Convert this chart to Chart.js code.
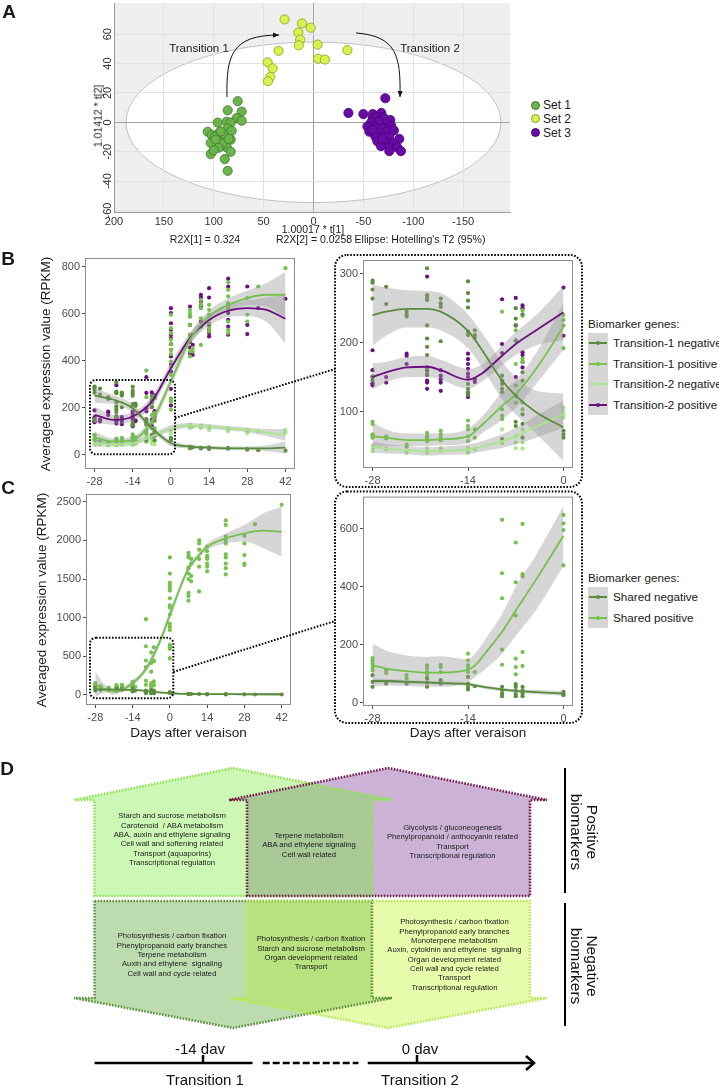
<!DOCTYPE html>
<html lang="en">
<head>
<meta charset="UTF-8">
<title>Biomarker genes across veraison</title>
<script src="https://cdn.jsdelivr.net/npm/chart.js"></script>
<style>
  body { margin: 0; background: #fff; }
  #page { position: relative; width: 719px; height: 1087px; overflow: hidden; font-family: "Liberation Sans", Arial, sans-serif; color: #1a1a1a; }
  #page canvas { position: absolute; }
  .lbl { position: absolute; white-space: nowrap; transform: translate(-50%, -50%); line-height: 1; }
  .lbl.left { transform: translate(0, -50%); }
  .lbl.vert { transform: translate(-50%, -50%) rotate(-90deg); }
  .panel { font-weight: bold; }
  #overlay { position: absolute; left: 0; top: 0; }
</style>
</head>
<body>
<div id="page"></div>
<script>
// ---- panel A: PCA scores ----
const set1X = [76, 86, 72, 77, 72, 96, 87, 83, 106, 102, 95, 86, 82, 99, 93, 89, 83, 103, 94, 87, 93, 103, 83, 89, 86, 94, 91, 98, 90, 85, 95, 100, 93];
const set1Y = [14.4, 8.2, 7.3, 2.9, 1.1, -0.2, 0.4, -0.2, -6.4, -8.7, -7.3, -4, -5.8, -10, -10.4, -11.8, -11.8, -14, -15.8, -17, -16, -21.6, -20, -25, -33, -13, -14.4, -11.8, -7.8, -11.3, -17.3, -19, -6.2];
const set2X = [29, 11.5, 2.8, 15.2, 13.4, 14.7, -4.1, -34, 35, -4.6, -11.5, 46, 41, 43.3, 45.6];
const set2Y = [70, 67.3, 64.4, 61.1, 56.2, 52.4, 52.9, 49.1, 48.7, 43.3, 42.7, 40.9, 36.7, 30.9, 28];
const set3X = [-72, -35, -50, -59.4, -68, -59.4, -63, -70, -77, -73, -65.4, -57.6, -54, -62, -71.4, -78, -56, -66, -73.7, -80.6, -62, -70, -76, -86, -64, -72, -80, -67.7, -76, -84, -87.6, -76, -59.4, -69];
const set3Y = [16.4, 6.4, 5.6, 5.6, 6.4, 2.7, 3.8, 3.3, 1.6, -1.1, 0.4, -0.2, -2.9, -3.3, -4, -2.4, -6.4, -6.9, -6.2, -5.6, -9.6, -9.6, -10, -11.3, -12.9, -13.6, -14.4, -16.2, -17.3, -17.1, -19.6, -19.6, -5.1, -11.3];
const pcaXTicks = [200, 150, 100, 50, 0, -50, -100, -150];
const pcaYTicks = [60, 40, 20, 0, -20, -40, -60];
const ellipseRadii = [188, 54.6];

// ---- panels B and C: expression per sampling day ----
const sampleDays = [-28, -26, -23, -20, -18, -14, -13, -9, -7, -6, 0, 7, 8, 11, 14, 21, 28, 32, 42];
const t1Neg = [[290, 287, 277, 264, 151, 145], [281, 256], [245, 241, 238], [308, 269, 265, 262, 225, 206, 194, 182, 162, 155], [264, 257, 252, 202], [289, 272, 261, 251, 216, 211, 140, 133, 128, 124], [218, 211, 207], [152, 145, 140, 133, 128, 60], [250, 235, 225, 203, 85, 79], [241, 157, 145, 96, 82, 62], [72, 67, 62], [35, 30, 28], [32], [30, 27], [32, 27, 25], [30, 26], [25, 22], [20], [18]];
const t1Pos = [[85, 82, 67, 65, 62], [64, 61], [52, 49], [69, 64, 61, 57], [72, 67, 62, 58], [87, 79, 74, 64, 57], [74, 62], [358, 245, 103, 94, 89], [218, 169, 138, 113], [247, 239, 177, 172, 113, 103], [595, 538, 517, 489, 470, 446, 428, 396, 375, 340, 240, 233, 225, 192], [616, 602, 588, 552, 510, 489, 439, 418], [453, 439], [658, 640, 623, 580, 467], [637, 616, 595, 559, 538, 524], [733, 701, 673, 644, 623, 566, 531, 517], [666, 595, 566], [715], [793]];
const t2Neg = [[50, 46, 42], [47, 45], [40], [47, 42, 40], [47, 43], [47, 43, 40], [45], [74, 60, 54], [64, 55, 47], [74, 55, 46], [106, 101, 96, 91], [127, 120, 113], [118], [125, 113], [120, 110, 106], [113, 106, 100], [106, 99, 92], [100], [106, 96]];
const t2Pos = [[189, 160, 150, 141, 138], [150, 142], [184, 181, 169], [296, 164, 160, 153, 145, 142, 133], [160, 152, 147, 142, 130], [184, 176, 169, 162, 155, 150, 127, 121], [147, 143], [330, 263, 198, 185], [265, 225, 203, 150, 123], [254, 250, 186, 182, 172, 164], [623, 602, 559, 531, 510, 496, 470, 446, 418, 382, 354, 280, 210], [630, 588, 552, 510, 479, 456, 432], [467, 425], [680, 668, 651, 630, 566, 545], [708, 668, 552, 531, 517, 503], [748, 715, 637, 602, 573, 545, 510], [715, 552, 513], [623], [663]];
const sharedPos = [[154, 146, 135, 123, 112], [112, 103], [95, 83], [129, 118, 106, 101, 89], [131, 123, 106], [169, 146, 129, 118, 106], [106], [980, 630, 446, 360, 183, 131], [552, 415, 301, 152, 123, 98], [616, 443, 435, 175, 127], [1780, 1570, 1450, 1420, 1390, 1350, 1250, 1160, 1130, 1040, 920, 880, 840, 647, 618, 595, 473], [1840, 1800, 1780, 1650, 1640, 1570, 1500, 1320, 1280, 1220], [1760, 1700, 1540, 1470], [2000, 1960, 1880, 1760, 1660, 1340], [1920, 1860, 1800, 1780, 1760, 1700, 1660, 1600], [2260, 2200, 2050, 2000, 1960, 1820, 1780, 1700, 1640, 1560], [2060, 1960, 1810, 1700, 1680], [2210], [2460]];
const sharedNeg = [[95, 72, 55], [72, 66], [66], [83, 69, 55], [78, 66], [89, 66, 55, 46], [57], [55, 43, 32, 23], [64, 55, 43, 30, 23], [55, 43, 32, 23], [38, 30, 26], [15, 10], [12], [12], [10, 8], [10, 7], [8], [6], [6]];

// smoothed fits (loess) with confidence band
const fitDaysB = [-28, -21, -14, -7, 0, 7, 14, 21, 28, 35, 42];
const t1NegFitB = [252, 234, 198, 113, 50, 35, 31, 28, 28, 28, 31];
const t1NegLoB = [220, 215, 180, 100, 38, 27, 23, 20, 20, 15, 5];
const t1NegHiB = [285, 253, 216, 126, 62, 43, 39, 36, 36, 41, 57];
const t1PosFitB = [74, 57, 64, 142, 312, 489, 588, 637, 666, 680, 680];
const t1PosLoB = [50, 45, 50, 122, 290, 466, 563, 610, 635, 630, 582];
const t1PosHiB = [98, 69, 78, 162, 334, 512, 613, 664, 697, 730, 778];
const t2NegFitB = [50, 45, 50, 78, 113, 125, 120, 113, 106, 95, 85];
const t2NegLoB = [34, 35, 40, 66, 100, 115, 110, 103, 96, 80, 60];
const t2NegHiB = [66, 55, 60, 90, 126, 135, 130, 123, 116, 110, 110];
const t2PosFitB = [170, 149, 163, 227, 368, 496, 573, 612, 623, 616, 578];
const t2PosLoB = [135, 128, 145, 205, 345, 472, 548, 585, 590, 565, 474];
const t2PosHiB = [205, 170, 181, 249, 391, 520, 598, 639, 656, 667, 682];

const fitDaysBZoom = [-28, -26, -23, -20, -18, -14, -12, -9, -7, -4, 0];
const t1NegFitZ = [240, 245, 249, 249, 245, 217, 190, 145, 123, 99, 77];
const t1NegLoZ = [196, 210, 222, 222, 218, 192, 165, 118, 96, 68, 28];
const t1NegHiZ = [284, 280, 276, 275, 272, 241, 215, 172, 150, 130, 126];
const t1PosFitZ = [64, 62, 58.5, 58.5, 59.5, 64, 80, 108, 125, 162, 223];
const t1PosLoZ = [46, 50, 50, 50, 51, 54, 68, 88, 105, 140, 190];
const t1PosHiZ = [84, 74, 68, 68, 68, 75, 92, 128, 145, 185, 258];
const t2NegFitZ = [49, 46, 44, 42, 43, 45, 49, 57, 64, 78, 96];
const t2NegLoZ = [40, 39, 38, 36, 37, 38, 42, 47, 52, 62, 76];
const t2NegHiZ = [57, 53, 50, 48, 49, 52, 57, 67, 76, 94, 116];
const t2PosFitZ = [150, 157, 164, 165, 160, 146, 155, 181, 198, 218, 244];
const t2PosLoZ = [132, 142, 150, 150, 146, 133, 143, 167, 182, 196, 204];
const t2PosHiZ = [170, 172, 179, 181, 175, 162, 168, 196, 215, 240, 282];

const fitDaysC = [-28, -24, -21, -18, -14, -10, -7, -3, 0, 4, 7, 11, 14, 21, 28, 35, 42];
const sPosFitC = [129, 73, 43, 65, 151, 289, 452, 754, 1034, 1400, 1638, 1810, 1918, 2026, 2090, 2125, 2112];
const sPosLoC = [-22, 30, 5, 35, 108, 255, 395, 710, 970, 1355, 1595, 1770, 1875, 1961, 1985, 1900, 1789];
const sPosHiC = [300, 120, 86, 100, 194, 320, 510, 800, 1099, 1450, 1681, 1850, 1961, 2090, 2198, 2349, 2435];
const sNegFitC = [73, 70, 68, 67, 65, 55, 43, 30, 22, 15, 13, 12, 11, 10, 9, 9, 9];
const sNegLoC = [55, 58, 58, 58, 55, 45, 33, 20, 12, 5, 3, 2, 1, 0, -3, -8, -12];
const sNegHiC = [91, 82, 78, 76, 75, 65, 53, 40, 32, 25, 23, 22, 21, 20, 21, 26, 30];

const fitDaysCZoom = [-28, -26, -23, -20, -18, -14, -13, -11, -9, -7, -4, 0];
const sPosFitZ = [129, 118, 109, 104, 104, 114, 128, 185, 245, 318, 425, 575];
const sPosLoZ = [55, 60, 58, 55, 55, 72, 88, 125, 170, 230, 320, 472];
const sPosHiZ = [203, 180, 163, 158, 160, 150, 168, 235, 305, 400, 510, 678];
const sNegFitZ = [75, 75, 72, 70, 68, 64, 60, 52, 46, 41, 37, 32];
const sNegLoZ = [66, 68, 66, 64, 62, 58, 54, 46, 40, 35, 30, 24];
const sNegHiZ = [84, 82, 78, 76, 74, 70, 66, 58, 52, 47, 44, 40];

const dayTicksFull = [-28, -14, 0, 14, 28, 42];
const dayTicksZoom = [-28, -14, 0];
const bTicksFull = [0, 200, 400, 600, 800];
const bTicksZoom = [100, 200, 300];
const cTicksFull = [0, 500, 1000, 1500, 2000, 2500];
const cTicksZoom = [0, 200, 400, 600];

const FONT = '"Liberation Sans", Arial, sans-serif';
const RIBBON = 'rgba(153,153,153,0.4)';
const C_T1NEG = '#5a8d3b';
const C_T1POS = '#74c24c';
const C_T2NEG = '#a9e68c';
const C_T2POS = '#6c0f80';
Chart.defaults.font.family = FONT;

const page = document.getElementById('page');

function label(text, x, y, size, cls, extra) {
  const d = document.createElement('div');
  d.className = 'lbl' + (cls ? ' ' + cls : '');
  d.textContent = text;
  d.style.left = x + 'px';
  d.style.top = y + 'px';
  d.style.fontSize = size + 'px';
  if (extra) Object.assign(d.style, extra);
  page.appendChild(d);
  return d;
}

function makeCanvas(pos) {
  const c = document.createElement('canvas');
  c.width = pos.w; c.height = pos.h;
  c.style.left = pos.x + 'px'; c.style.top = pos.y + 'px';
  c.style.width = pos.w + 'px'; c.style.height = pos.h + 'px';
  page.appendChild(c);
  return c;
}

function toPoints(values) {
  const out = [];
  sampleDays.forEach((d, i) => values[i].forEach(v => out.push({ x: d, y: v })));
  return out;
}
const curve = (days, vals) => days.map((d, i) => ({ x: d, y: vals[i] }));
const plain = v => String(v);

function pointSet(values, color) {
  return { data: toPoints(values), showLine: false, pointRadius: 2.1, pointBackgroundColor: color,
    pointBorderColor: 'rgba(0,0,0,0)', pointBorderWidth: 0, order: 3, clip: 0 };
}
function smoothSets(days, fit, lo, hi, color) {
  return [
    { data: curve(days, lo), borderColor: 'rgba(0,0,0,0)', borderWidth: 0, pointRadius: 0, fill: false, cubicInterpolationMode: 'monotone', order: 2, clip: 0 },
    { data: curve(days, hi), borderColor: 'rgba(0,0,0,0)', borderWidth: 0, pointRadius: 0, fill: '-1', backgroundColor: RIBBON, cubicInterpolationMode: 'monotone', order: 2, clip: 0 },
    { data: curve(days, fit), borderColor: color, borderWidth: 1.8, pointRadius: 0, fill: false, cubicInterpolationMode: 'monotone', order: 1, clip: 0 }
  ];
}

const panelFrame = {
  id: 'panelFrame',
  afterDraw(chart) {
    const { ctx, chartArea: a } = chart;
    ctx.save();
    ctx.strokeStyle = '#8c8c8c';
    ctx.lineWidth = 1;
    ctx.strokeRect(a.left + 0.5, a.top + 0.5, a.width - 1, a.height - 1);
    ctx.restore();
  }
};

function exprChart(pos, area, xr, yr, xt, yt, datasets) {
  const axisTicks = (vals) => (s) => { s.ticks = vals.map(v => ({ value: v })); };
  return new Chart(makeCanvas(pos), {
    type: 'line',
    data: { datasets },
    options: {
      responsive: false, animation: false, devicePixelRatio: 1, events: [],
      layout: { autoPadding: false, padding: { left: 0, bottom: 0, top: area.t - pos.y, right: pos.x + pos.w - area.r } },
      plugins: { legend: { display: false }, tooltip: { enabled: false } },
      scales: {
        x: { type: 'linear', min: xr[0], max: xr[1], afterBuildTicks: axisTicks(xt),
          afterFit: s => { s.height = pos.y + pos.h - area.b; },
          grid: { drawOnChartArea: false, drawTicks: true, tickLength: 3, color: '#4d4d4d' },
          border: { display: false },
          ticks: { color: '#4d4d4d', font: { size: 11 }, padding: 3, maxRotation: 0, autoSkip: false, callback: plain } },
        y: { type: 'linear', min: yr[0], max: yr[1], afterBuildTicks: axisTicks(yt),
          afterFit: s => { s.width = area.l - pos.x; },
          grid: { drawOnChartArea: false, drawTicks: true, tickLength: 3, color: '#4d4d4d' },
          border: { display: false },
          ticks: { color: '#4d4d4d', font: { size: 11 }, padding: 2, autoSkip: false, callback: plain } }
      }
    },
    plugins: [panelFrame]
  });
}

// ---------- Panel A ----------
const arrowT1 = [[86.7, 17.2], [87.7, 45.8], [81.7, 59.4], [34.6, 59.4]];
const arrowT2 = [[-42.6, 60.8], [-82.7, 58.7], [-87.7, 45.8], [-86.7, 17.2]];

const pcaDecor = {
  id: 'pcaDecor',
  beforeDraw(chart) {
    const { ctx, chartArea: a, scales: { x, y } } = chart;
    ctx.save();
    ctx.fillStyle = '#efefef';
    ctx.fillRect(a.left, a.top, a.width, a.height);
    const cx = x.getPixelForValue(0), cy = y.getPixelForValue(0);
    const rx = Math.abs(x.getPixelForValue(ellipseRadii[0]) - cx);
    const ry = Math.abs(y.getPixelForValue(ellipseRadii[1]) - cy);
    ctx.beginPath();
    ctx.ellipse(cx, cy, rx, ry, 0, 0, 2 * Math.PI);
    ctx.fillStyle = '#fff';
    ctx.fill();
    ctx.strokeStyle = '#c2c2c2';
    ctx.lineWidth = 1;
    ctx.stroke();
    ctx.restore();
  },
  afterDraw(chart) {
    const { ctx, scales: { x, y } } = chart;
    ctx.save();
    ctx.fillStyle = '#333';
    ctx.font = '11px ' + FONT;
    ctx.textAlign = 'center';
    ctx.textBaseline = 'middle';
    pcaYTicks.forEach(v => {
      ctx.save();
      ctx.translate(108, y.getPixelForValue(v));
      ctx.rotate(-Math.PI / 2);
      ctx.fillText(String(v), 0, 0);
      ctx.restore();
    });
    ctx.strokeStyle = '#111';
    ctx.fillStyle = '#111';
    ctx.lineWidth = 1;
    [arrowT1, arrowT2].forEach(a => {
      const p = a.map(q => [x.getPixelForValue(q[0]), y.getPixelForValue(q[1])]);
      ctx.beginPath();
      ctx.moveTo(p[0][0], p[0][1]);
      ctx.bezierCurveTo(p[1][0], p[1][1], p[2][0], p[2][1], p[3][0], p[3][1]);
      ctx.stroke();
      const ang = Math.atan2(p[3][1] - p[2][1], p[3][0] - p[2][0]);
      ctx.save();
      ctx.translate(p[3][0], p[3][1]);
      ctx.rotate(ang);
      ctx.beginPath();
      ctx.moveTo(0, 0); ctx.lineTo(-6, -2.6); ctx.lineTo(-6, 2.6); ctx.closePath();
      ctx.fill();
      ctx.restore();
    });
    ctx.restore();
  }
};

const zip = (xs, ys) => xs.map((v, i) => ({ x: v, y: ys[i] }));
const posA = { x: 0, y: 0, w: 520, h: 250 };
const areaA = { l: 114, t: 3, r: 510, b: 212 };
const gridA = c => (c.tick && c.tick.value === 0) ? '#a3a3a3' : '#e2e2e2';
new Chart(makeCanvas(posA), {
  type: 'scatter',
  data: { datasets: [
    { data: zip(set1X, set1Y), pointRadius: 4.6, pointBackgroundColor: '#6ab34d', pointBorderColor: '#3f7a2c', pointBorderWidth: 0.8 },
    { data: zip(set2X, set2Y), pointRadius: 4.6, pointBackgroundColor: '#d8f24e', pointBorderColor: '#8e9d2a', pointBorderWidth: 0.8 },
    { data: zip(set3X, set3Y), pointRadius: 4.6, pointBackgroundColor: '#6a0aa6', pointBorderColor: '#45086e', pointBorderWidth: 0.8 }
  ] },
  options: {
    responsive: false, animation: false, devicePixelRatio: 1, events: [],
    layout: { autoPadding: false, padding: { left: 0, bottom: 0, top: areaA.t, right: posA.w - areaA.r } },
    plugins: { legend: { display: false }, tooltip: { enabled: false } },
    scales: {
      x: { type: 'linear', reverse: true, min: -197, max: 200,
        afterBuildTicks: s => { s.ticks = pcaXTicks.map(v => ({ value: v })); },
        afterFit: s => { s.height = posA.h - areaA.b; },
        grid: { color: gridA, drawTicks: false }, border: { color: '#9a9a9a' },
        ticks: { color: '#333', font: { size: 11 }, padding: 3, maxRotation: 0, autoSkip: false, callback: plain } },
      y: { type: 'linear', min: -61, max: 81.2,
        afterBuildTicks: s => { s.ticks = pcaYTicks.map(v => ({ value: v })); },
        afterFit: s => { s.width = areaA.l; },
        grid: { color: gridA, drawTicks: false }, border: { color: '#9a9a9a' },
        ticks: { display: false } }
    }
  },
  plugins: [pcaDecor]
});

// ---------- Panel B ----------
exprChart({ x: 0, y: 245, w: 305, h: 250 }, { l: 85, t: 258, r: 295, b: 469 }, [-31.5, 45.5], [-60, 836], dayTicksFull, bTicksFull, [
  pointSet(t1Neg, C_T1NEG), pointSet(t1Pos, C_T1POS), pointSet(t2Neg, C_T2NEG), pointSet(t2Pos, C_T2POS),
  ...smoothSets(fitDaysB, t1NegFitB, t1NegLoB, t1NegHiB, C_T1NEG),
  ...smoothSets(fitDaysB, t1PosFitB, t1PosLoB, t1PosHiB, C_T1POS),
  ...smoothSets(fitDaysB, t2NegFitB, t2NegLoB, t2NegHiB, C_T2NEG),
  ...smoothSets(fitDaysB, t2PosFitB, t2PosLoB, t2PosHiB, C_T2POS)
]);
exprChart({ x: 310, y: 250, w: 270, h: 240 }, { l: 363, t: 260, r: 573, b: 468 }, [-29.4, 1.4], [18, 320], dayTicksZoom, bTicksZoom, [
  pointSet(t1Neg, C_T1NEG), pointSet(t1Pos, C_T1POS), pointSet(t2Neg, C_T2NEG), pointSet(t2Pos, C_T2POS),
  ...smoothSets(fitDaysBZoom, t1NegFitZ, t1NegLoZ, t1NegHiZ, C_T1NEG),
  ...smoothSets(fitDaysBZoom, t1PosFitZ, t1PosLoZ, t1PosHiZ, C_T1POS),
  ...smoothSets(fitDaysBZoom, t2NegFitZ, t2NegLoZ, t2NegHiZ, C_T2NEG),
  ...smoothSets(fitDaysBZoom, t2PosFitZ, t2PosLoZ, t2PosHiZ, C_T2POS)
]);

// ---------- Panel C ----------
exprChart({ x: 0, y: 485, w: 300, h: 240 }, { l: 86, t: 494, r: 291, b: 705 }, [-31.5, 45.5], [-130, 2600], dayTicksFull, cTicksFull, [
  pointSet(sharedNeg, C_T1NEG), pointSet(sharedPos, C_T1POS),
  ...smoothSets(fitDaysC, sNegFitC, sNegLoC, sNegHiC, C_T1NEG),
  ...smoothSets(fitDaysC, sPosFitC, sPosLoC, sPosHiC, C_T1POS)
]);
exprChart({ x: 310, y: 488, w: 270, h: 237 }, { l: 363, t: 495, r: 573, b: 706 }, [-29.4, 1.4], [-11, 710], dayTicksZoom, cTicksZoom, [
  pointSet(sharedNeg, C_T1NEG), pointSet(sharedPos, C_T1POS),
  ...smoothSets(fitDaysCZoom, sNegFitZ, sNegLoZ, sNegHiZ, C_T1NEG),
  ...smoothSets(fitDaysCZoom, sPosFitZ, sPosLoZ, sPosHiZ, C_T1POS)
]);

// ---------- text ----------
label('A', 9, 11, 19, 'panel');
label('B', 8, 258, 19, 'panel');
label('C', 8, 487, 19, 'panel');
label('D', 7, 768, 19, 'panel');

label('Transition 1', 199, 49, 11.5);
label('Transition 2', 430, 49, 11.5);
label('1.01412 * t[2]', 98, 116, 10.5, 'vert');
label('1.00017 * t[1]', 313, 228.5, 10.5);
label('R2X[1] = 0.324', 205, 238.5, 10.5);
label('R2X[2] = 0.0258', 314, 238.5, 10.5);
label("Ellipse: Hotelling's T2 (95%)", 420, 238.5, 10.5);

[['Set 1', '#6ab34d', '#3f7a2c', 105], ['Set 2', '#d8f24e', '#8e9d2a', 118.5], ['Set 3', '#6a0aa6', '#45086e', 132.5]].forEach(s => {
  const d = document.createElement('div');
  Object.assign(d.style, { position: 'absolute', left: '530.5px', top: (s[3] - 4.5) + 'px', width: '9px', height: '9px',
    borderRadius: '50%', background: s[1], boxSizing: 'border-box', border: '0.8px solid ' + s[2] });
  page.appendChild(d);
  label(s[0], 543, s[3], 12, 'left');
});

label('Averaged expression value (RPKM)', 46, 363.5, 13.5, 'vert');
label('Averaged expression value (RPKM)', 42, 599.5, 13.5, 'vert');
label('Days after veraison', 188.5, 733, 13.5);
label('Days after veraison', 468, 733, 13.5);

function legend(top, items) {
  label('Biomarker genes:', 588, top, 11.7, 'left');
  const keyTop = top + 9;
  const bg = document.createElement('div');
  Object.assign(bg.style, { position: 'absolute', left: '588px', top: keyTop + 'px', width: '20px', height: (items.length * 20.5) + 'px', background: '#d6d6d6' });
  page.appendChild(bg);
  items.forEach((it, i) => {
    const cy = keyTop + 10.25 + i * 20.5;
    const ln = document.createElement('div');
    Object.assign(ln.style, { position: 'absolute', left: '589px', top: (cy - 1) + 'px', width: '18px', height: '2px', background: it[1] });
    const dot = document.createElement('div');
    Object.assign(dot.style, { position: 'absolute', left: '595.8px', top: (cy - 2.2) + 'px', width: '4.4px', height: '4.4px', borderRadius: '50%', background: it[1] });
    page.appendChild(ln);
    page.appendChild(dot);
    label(it[0], 613, cy, 11.7, 'left');
  });
}
legend(324, [['Transition-1 negative', C_T1NEG], ['Transition-1 positive', C_T1POS], ['Transition-2 negative', C_T2NEG], ['Transition-2 positive', C_T2POS]]);
legend(578, [['Shared negative', C_T1NEG], ['Shared positive', C_T1POS]]);

// ---------- overlay: zoom boxes + panel D ----------
const t1PosShape = '94.5,896 94.5,800 74,800 233,768 392,800 372,800 372,896';
const t2PosShape = '247,896 247,800 229,800 388,768 547,800 530,800 530,896';
const t1NegShape = '94.5,901 372,901 372,998 392,998 233,1028 74,998 94.5,998';
const t2NegShape = '247,901 530,901 530,998 547,998 388,1028 229,998 247,998';

const dBoxes = [
  { x: 172, y: 815.7, lines: ['Starch and sucrose metabolism', 'Carotenoid  / ABA metabolism', 'ABA, auxin and ethylene signaling', 'Cell wall and softening related', 'Transport (aquaporins)', 'Transcriptional regulation'] },
  { x: 309, y: 835.3, lines: ['Terpene metabolism', 'ABA and ethylene signaling', 'Cell wall related'] },
  { x: 452.5, y: 827.3, lines: ['Glycolysis / gluconeogenesis', 'Phenylpropanoid / anthocyanin related', 'Transport', 'Transcriptional regulation'] },
  { x: 172, y: 935.7, lines: ['Photosynthesis / carbon fixation', 'Phenylpropanoid early branches', 'Terpene metabolism', 'Auxin and ethylene  signaling', 'Cell wall and cycle related'] },
  { x: 311, y: 938.7, lines: ['Photosynthesis / carbon fixation', 'Starch and sucrose metabolism', 'Organ development related', 'Transport'] },
  { x: 454.4, y: 921.7, lines: ['Photosynthesis / carbon fixation', 'Phenylpropanoid early branches', 'Monoterpene metabolism', 'Auxin, cytokinin and ethylene  signaling', 'Organ development related', 'Cell wall and cycle related', 'Transport', 'Transcriptional regulation'] }
];

const dot = 'fill="none" stroke="#000" stroke-width="2" stroke-dasharray="1.6 1.6"';
const dash = (c) => `fill="none" stroke="${c}" stroke-width="2.6" stroke-dasharray="1.6 1.4"`;
const SVGFONT = FONT.replace(/"/g, "'");
let svg = `<svg id="overlay" width="719" height="1087" xmlns="http://www.w3.org/2000/svg">
<defs>
  <clipPath id="cpT1P"><polygon points="${t1PosShape}"/></clipPath>
  <clipPath id="cpT1N"><polygon points="${t1NegShape}"/></clipPath>
</defs>
<rect x="90" y="380" width="85" height="74.3" rx="6" ${dot}/>
<line x1="175" y1="418" x2="335" y2="369" ${dot}/>
<rect x="335" y="255" width="247" height="232" rx="12" ${dot}/>
<rect x="90" y="637.7" width="83.3" height="60.6" rx="6" ${dot}/>
<line x1="173.3" y1="672" x2="335" y2="621" ${dot}/>
<rect x="335" y="491.5" width="247" height="231.5" rx="12" ${dot}/>

<polygon points="${t1PosShape}" fill="#cdf7b4"/>
<polygon points="${t2PosShape}" fill="#ccb3d6"/>
<polygon points="${t2PosShape}" fill="#a9c996" clip-path="url(#cpT1P)"/>
<polygon points="${t1PosShape}" ${dash('#8fe452')}/>
<polygon points="${t2PosShape}" ${dash('#74204f')}/>
<polygon points="${t1NegShape}" fill="#bcdcb0"/>
<polygon points="${t2NegShape}" fill="#e6fbab"/>
<polygon points="${t2NegShape}" fill="#b7e27f" clip-path="url(#cpT1N)"/>
<polygon points="${t1NegShape}" ${dash('#5d9140')}/>
<polygon points="${t2NegShape}" ${dash('#b5ea52')}/>
<g font-family="${SVGFONT}" font-size="7.7" fill="#1a1a1a" text-anchor="middle" dominant-baseline="central">`;
dBoxes.forEach(b => b.lines.forEach((t, i) => {
  svg += `<text x="${b.x}" y="${(b.y + i * 9.35).toFixed(1)}" xml:space="preserve">${t}</text>`;
}));
svg += `</g>
<line x1="565" y1="768" x2="565" y2="893" stroke="#000" stroke-width="2"/>
<line x1="565" y1="903" x2="565" y2="1026" stroke="#000" stroke-width="2"/>
<g font-family="${SVGFONT}" font-size="15.5" fill="#111" text-anchor="middle">
  <text transform="translate(584,832) rotate(90)"><tspan x="0" y="-2.5">Positive</tspan><tspan x="0" y="13.5">biomarkers</tspan></text>
  <text transform="translate(584,966) rotate(90)"><tspan x="0" y="-2.5">Negative</tspan><tspan x="0" y="13.5">biomarkers</tspan></text>
</g>
<g stroke="#000" stroke-width="2.5" fill="none">
  <line x1="94.5" y1="1063" x2="252.5" y2="1063"/>
  <line x1="262.7" y1="1063" x2="358.5" y2="1063" stroke-dasharray="7 3"/>
  <line x1="367.7" y1="1063" x2="533" y2="1063"/>
  <polyline points="526,1056 534,1063 526,1070"/>
  <line x1="203" y1="1055" x2="203" y2="1063"/>
  <line x1="417" y1="1055" x2="417" y2="1063"/>
</g>
<g font-family="${SVGFONT}" font-size="15" fill="#111" text-anchor="middle" dominant-baseline="central">
  <text x="200" y="1048">-14 dav</text>
  <text x="420" y="1048">0 dav</text>
  <text x="205" y="1079">Transition 1</text>
  <text x="420" y="1079">Transition 2</text>
</g>
</svg>`;
page.insertAdjacentHTML('beforeend', svg);
</script>
</body>
</html>
